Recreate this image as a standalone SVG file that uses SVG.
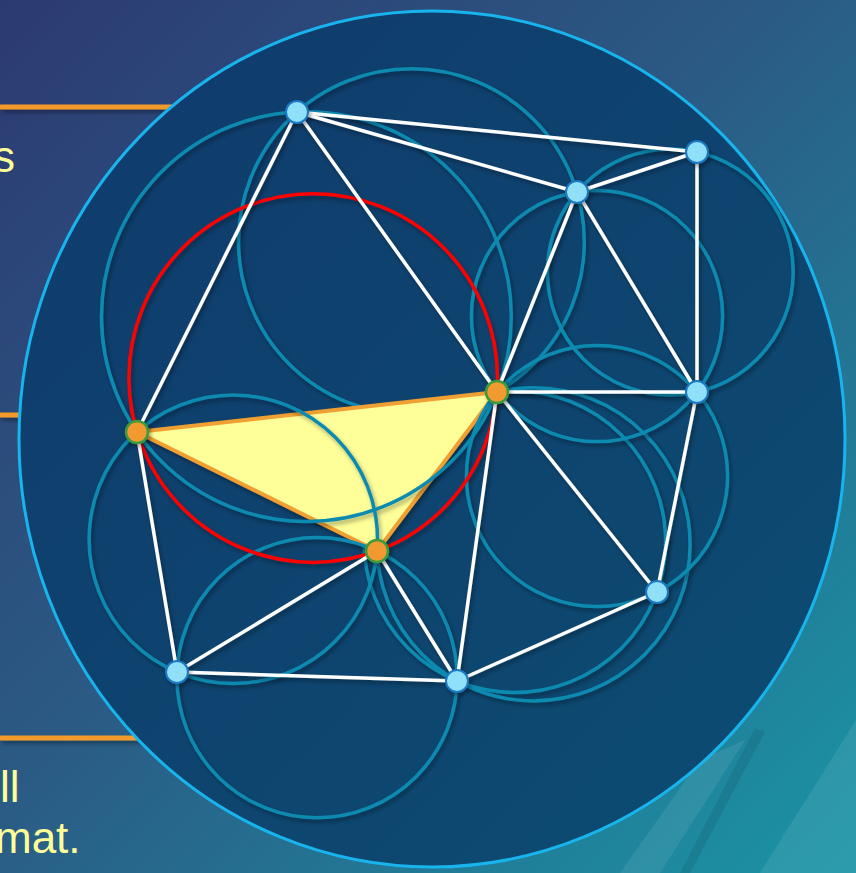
<svg xmlns="http://www.w3.org/2000/svg" width="856" height="873" viewBox="0 0 856 873">
<defs>
<linearGradient id="bg" x1="0" y1="0" x2="1" y2="1">
<stop offset="0" stop-color="#2c3a72"/>
<stop offset="0.45" stop-color="#2b5a84"/>
<stop offset="1" stop-color="#1a95a6"/>
</linearGradient>
<linearGradient id="disc" x1="0" y1="0" x2="1" y2="1">
<stop offset="0" stop-color="#103a6c"/>
<stop offset="1" stop-color="#0c4d72"/>
</linearGradient>
<filter id="sh" x="-10%" y="-10%" width="120%" height="120%">
<feDropShadow dx="2" dy="3" stdDeviation="2" flood-color="#000" flood-opacity="0.35"/>
</filter>
<style>
.rule{stroke:#f39a2b;stroke-width:5;}
.txt{font-family:"Liberation Sans",Arial,sans-serif;font-size:44px;fill:#ffff99;}
.cc{fill:none;stroke:#0e8ab0;stroke-width:3.5;}
.red{fill:none;stroke:#ff0000;stroke-width:3.5;}
.edge{stroke:#ffffff;stroke-width:3.5;stroke-linecap:round;}
.nb{fill:#90e0fa;stroke:#1a78c2;stroke-width:2;}
.no{fill:#f29a30;stroke:#3c9a3c;stroke-width:2.5;}
.band{fill:#ffffff;}
</style>
</defs>
<rect width="856" height="873" fill="url(#bg)"/>
<g id="decor" opacity="0.08">
<polygon class="band" points="700,760 745,740 660,873 620,873"/>
<polygon class="band" points="856,720 856,873 760,873"/>
<polygon points="755,728 765,732 690,873 680,873" fill="#000"/>
</g>
<g id="rules" filter="url(#sh)">
<line class="rule" x1="0" y1="107" x2="200" y2="107"/>
<line class="rule" x1="0" y1="415" x2="60" y2="415"/>
<line class="rule" x1="0" y1="738" x2="200" y2="738"/>
</g>
<g id="texts">
<text class="txt" x="-7" y="172">s</text>
<text class="txt" x="0" y="802">ll</text>
<text class="txt" x="-5" y="853">mat.</text>
</g>
<g id="disc-node">
<ellipse cx="432" cy="439" rx="413" ry="428" fill="url(#disc)" stroke="#18b4ee" stroke-width="3"/>
</g>
<g id="circles-under" filter="url(#sh)">
<circle class="cc" cx="411.4" cy="241.7" r="172.9"/>
<circle class="cc" cx="514.8" cy="541.7" r="150.8"/>
<circle class="cc" cx="533.5" cy="544.3" r="156.6"/>
</g>
<g id="triangle" filter="url(#sh)">
<polygon points="137,432 497,392 377,551" fill="#ffff99" stroke="#f0a030" stroke-width="4" stroke-linejoin="round"/>
</g>
<g id="circles" filter="url(#sh)">
<circle class="cc" cx="306.4" cy="316.7" r="204.9"/>
<circle class="cc" cx="670.3" cy="272" r="122.9"/>
<circle class="cc" cx="597" cy="316" r="125.6"/>
<circle class="cc" cx="597" cy="476" r="130.6"/>
<circle class="cc" cx="233.3" cy="539.3" r="144.2"/>
<circle class="cc" cx="317" cy="677.6" r="140.1"/>
<circle class="red" cx="313.2" cy="378.1" r="184.3"/>
</g>
<g id="connectors" filter="url(#sh)">
<line class="edge" x1="297" y1="112" x2="697" y2="152"/>
<line class="edge" x1="297" y1="112" x2="577" y2="192"/>
<line class="edge" x1="697" y1="152" x2="577" y2="192"/>
<line class="edge" x1="297" y1="112" x2="137" y2="432"/>
<line class="edge" x1="297" y1="112" x2="497" y2="392"/>
<line class="edge" x1="577" y1="192" x2="497" y2="392"/>
<line class="edge" x1="577" y1="192" x2="697" y2="392"/>
<line class="edge" x1="697" y1="152" x2="697" y2="392"/>
<line class="edge" x1="497" y1="392" x2="697" y2="392"/>
<line class="edge" x1="497" y1="392" x2="657" y2="592"/>
<line class="edge" x1="697" y1="392" x2="657" y2="592"/>
<line class="edge" x1="497" y1="392" x2="457" y2="681"/>
<line class="edge" x1="657" y1="592" x2="457" y2="681"/>
<line class="edge" x1="377" y1="551" x2="457" y2="681"/>
<line class="edge" x1="377" y1="551" x2="177" y2="672"/>
<line class="edge" x1="177" y1="672" x2="457" y2="681"/>
<line class="edge" x1="137" y1="432" x2="177" y2="672"/>
</g>
<g id="nodes" filter="url(#sh)">
<circle id="n1" class="nb" cx="297" cy="112" r="11"/>
<circle id="n2" class="nb" cx="697" cy="152" r="11"/>
<circle id="n3" class="nb" cx="577" cy="192" r="11"/>
<circle id="n5" class="nb" cx="697" cy="392" r="11"/>
<circle id="n8" class="nb" cx="657" cy="592" r="11"/>
<circle id="n9" class="nb" cx="177" cy="672" r="11"/>
<circle id="n10" class="nb" cx="457" cy="681" r="11"/>
<circle id="n4" class="no" cx="497" cy="392" r="11"/>
<circle id="n6" class="no" cx="137" cy="432" r="11"/>
<circle id="n7" class="no" cx="377" cy="551" r="11"/>
</g>
</svg>
